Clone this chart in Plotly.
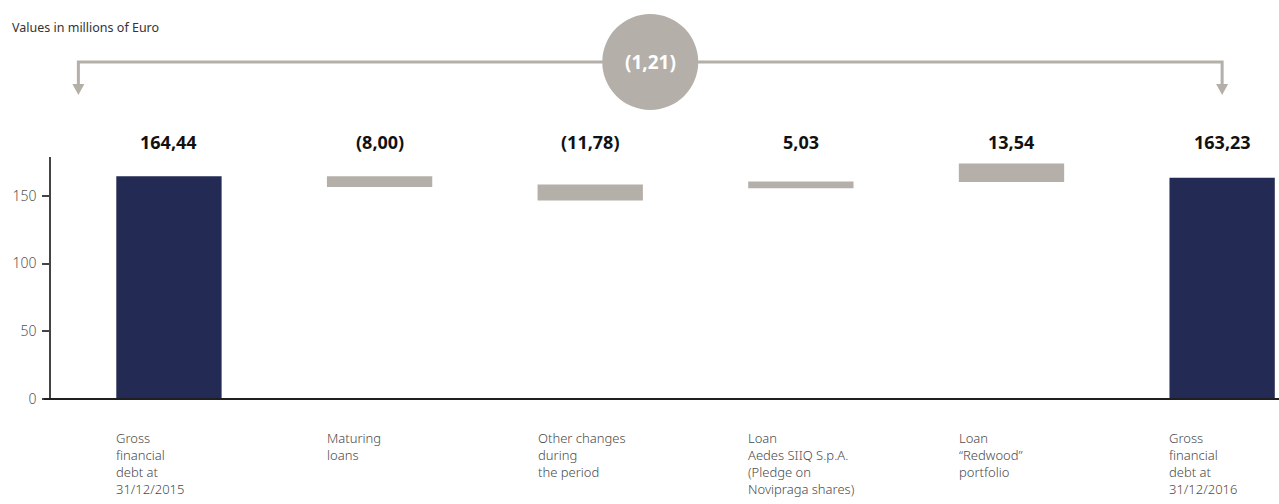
import plotly.graph_objects as go

# Bridge of gross financial debt, 2015 -> 2016 (millions of Euro)
categories = [
    "Gross<br>financial<br>debt at<br>31/12/2015",
    "Maturing<br>loans",
    "Other changes<br>during<br>the period",
    "Loan<br>Aedes SIIQ S.p.A.<br>(Pledge on<br>Novipraga shares)",
    "Loan<br>“Redwood”<br>portfolio",
    "Gross<br>financial<br>debt at<br>31/12/2016",
]
value_labels = ["164,44", "(8,00)", "(11,78)", "5,03", "13,54", "163,23"]
amounts = [164.44, -8.00, -11.78, 5.03, 13.54, 163.23]
# level each floating bar starts from (totals start at zero)
bases = [0, 164.44, 158.3, 155.5, 160.2, 0]
is_total = [True, False, False, False, False, True]
net_change_label = "(1,21)"
y_ticks = [0, 50, 100, 150]

NAVY = "#232a53"
TAUPE = "#b4afa9"
FONT = "Noto Sans"

W, H = 1279, 504
MT, MB, ML, MR = 157, 105, 51, 0
X_RANGE = [-0.56, 5.27]
Y_RANGE = [0, 178.6]
plot_h = H - MT - MB


def xp(x):
    """data x -> paper x"""
    return (x - X_RANGE[0]) / (X_RANGE[1] - X_RANGE[0])


def yp(py):
    """pixel row -> paper y"""
    return (H - MB - py) / plot_h


def xpx(px):
    """pixel column -> paper x"""
    return (px - ML) / (W - ML - MR)


xs = list(range(len(categories)))
colors = [NAVY if t else TAUPE for t in is_total]

fig = go.Figure(
    go.Bar(
        x=xs,
        y=amounts,
        base=bases,
        width=0.5,
        marker=dict(color=colors, line=dict(width=0)),
        hoverinfo="skip",
    )
)

shapes = []
annotations = []

# x axis baseline, running a little past the y axis
shapes.append(dict(type="line", xref="paper", yref="paper", x0=xpx(44), x1=1,
                   y0=0, y1=0, line=dict(color="#1f1f1f", width=2)))

# bracket linking opening and closing debt
left_x, right_x = -0.43, 5.0
bracket_y = yp(62)
drop_y = yp(84)
tip_y = yp(95)
half_w = 6 / (W - ML - MR)
line_style = dict(color=TAUPE, width=3)
shapes.append(dict(type="path", xref="paper", yref="paper",
                   path=f"M {xp(left_x)} {drop_y} L {xp(left_x)} {bracket_y} "
                        f"L {xp(right_x)} {bracket_y} L {xp(right_x)} {drop_y}",
                   line=line_style))
for bx in (left_x, right_x):
    cx = xp(bx)
    shapes.append(dict(type="path", xref="paper", yref="paper",
                       path=f"M {cx - half_w} {drop_y} L {cx + half_w} {drop_y} L {cx} {tip_y} Z",
                       fillcolor=TAUPE, line=dict(width=0)))

# circle with the net change
mid_x = xp((left_x + right_x) / 2)
shapes.append(dict(type="circle", xref="paper", yref="paper",
                   xsizemode="pixel", ysizemode="pixel",
                   xanchor=mid_x, yanchor=bracket_y,
                   x0=-48, x1=48, y0=-48, y1=48,
                   fillcolor=TAUPE, line=dict(width=0)))
annotations.append(dict(xref="paper", yref="paper", x=mid_x, y=bracket_y,
                        text=f"<b>{net_change_label}</b>", showarrow=False,
                        font=dict(family=FONT, size=19, color="white"),
                        xanchor="center", yanchor="middle"))

# value labels above the bars
for x, lab in zip(xs, value_labels):
    annotations.append(dict(xref="x", yref="paper", x=x, y=yp(142),
                            text=f"<b>{lab}</b>", showarrow=False,
                            font=dict(family=FONT, size=18, color="#111111"),
                            xanchor="center", yanchor="middle"))

# category labels below the axis, aligned on each bar's left edge
for x, cat in zip(xs, categories):
    annotations.append(dict(xref="x", yref="paper", x=x - 0.25, y=yp(427),
                            text=cat, showarrow=False, align="left",
                            font=dict(family=FONT, size=13, color="#4a4a4a", weight=300),
                            xanchor="left", yanchor="top", xshift=-2))

# unit note
annotations.append(dict(xref="paper", yref="paper", x=xpx(10), y=yp(27),
                        text="Values in millions of Euro", showarrow=False,
                        font=dict(family=FONT, size=12.5, color="#333333"),
                        xanchor="left", yanchor="middle"))

fig.update_layout(
    width=W, height=H,
    margin=dict(l=ML, r=MR, t=MT, b=MB, pad=0),
    paper_bgcolor="white", plot_bgcolor="white",
    showlegend=False,
    font=dict(family=FONT),
    xaxis=dict(range=X_RANGE, showticklabels=False, showgrid=False,
               zeroline=False, showline=False, ticks=""),
    yaxis=dict(range=Y_RANGE, tickvals=y_ticks, showgrid=False, zeroline=False,
               showline=True, linecolor="#444444", linewidth=1.5,
               ticks="outside", ticklen=7, tickcolor="#444444", tickwidth=1.5,
               ticklabelstandoff=3,
               tickfont=dict(family=FONT, size=14, color="#555555", weight=300)),
    shapes=shapes,
    annotations=annotations,
)

fig.write_html("out.html")
